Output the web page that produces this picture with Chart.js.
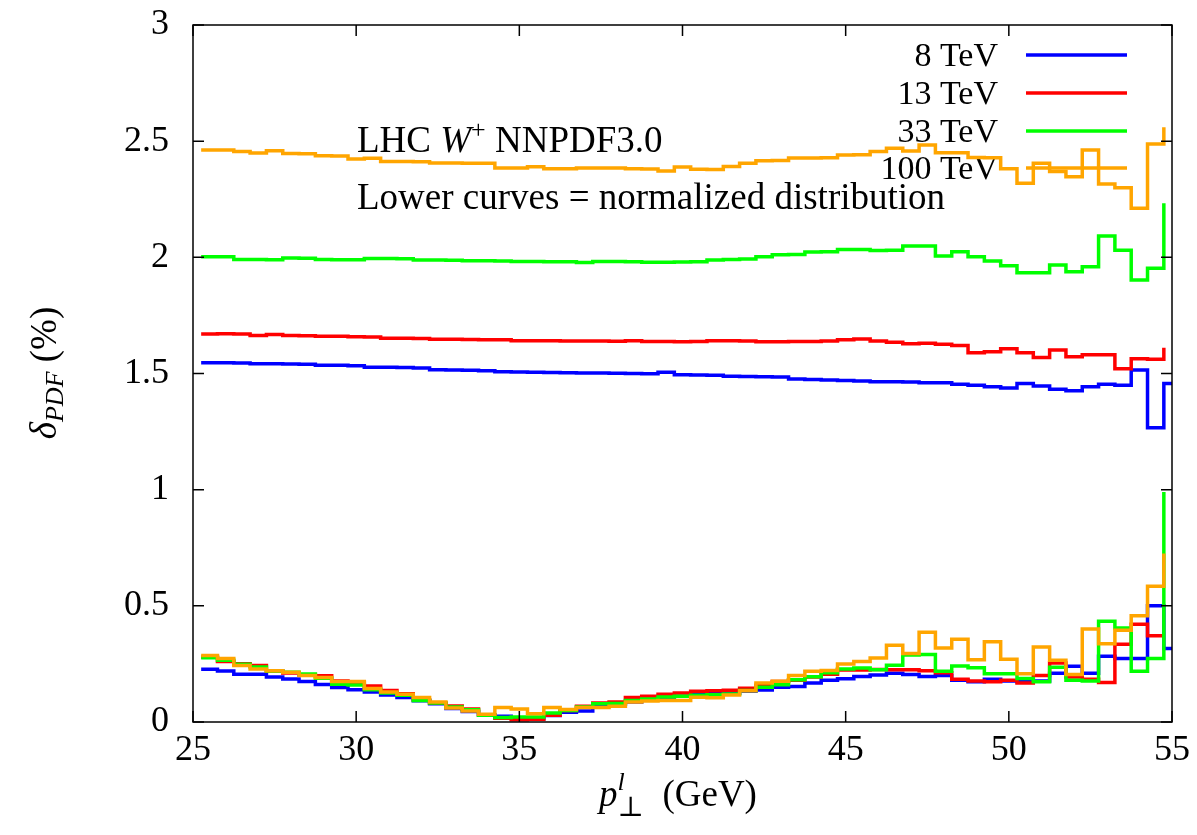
<!DOCTYPE html>
<html>
<head>
<meta charset="utf-8">
<script src="https://cdn.jsdelivr.net/npm/chart.js@4.4.1/dist/chart.umd.min.js"></script>
<style>
  html, body { margin: 0; padding: 0; background: #fff; }
  #wrap { width: 1197px; height: 835px; }
</style>
</head>
<body>
<div id="wrap"><canvas id="c" width="1197" height="835"></canvas></div>
<script>
// bin centres (GeV), 0.5 GeV bins
const binCenters = [
  25.25, 25.75, 26.25, 26.75, 27.25, 27.75, 28.25, 28.75, 29.25, 29.75,
  30.25, 30.75, 31.25, 31.75, 32.25, 32.75, 33.25, 33.75, 34.25, 34.75,
  35.25, 35.75, 36.25, 36.75, 37.25, 37.75, 38.25, 38.75, 39.25, 39.75,
  40.25, 40.75, 41.25, 41.75, 42.25, 42.75, 43.25, 43.75, 44.25, 44.75,
  45.25, 45.75, 46.25, 46.75, 47.25, 47.75, 48.25, 48.75, 49.25, 49.75,
  50.25, 50.75, 51.25, 51.75, 52.25, 52.75, 53.25, 53.75, 54.25, 54.75,
  55.25
];

const seriesLabels = ['8 TeV', '13 TeV', '33 TeV', '100 TeV'];
const seriesColors = ['#0000ff', '#ff0000', '#00ff00', '#ffa500'];

const xTicks = [25, 30, 35, 40, 45, 50, 55];
const yTicks = [0, 0.5, 1, 1.5, 2, 2.5, 3];
const yTickLabels = ['0', '0.5', '1', '1.5', '2', '2.5', '3'];

// upper curves: PDF uncertainty of the distribution (%)
const blueUpper = [
  1.546, 1.546, 1.545, 1.542, 1.542, 1.541, 1.540, 1.535, 1.535, 1.533,
  1.527, 1.527, 1.526, 1.524, 1.516, 1.515, 1.514, 1.512, 1.507, 1.506,
  1.505, 1.504, 1.503, 1.502, 1.502, 1.501, 1.500, 1.499, 1.505, 1.495,
  1.494, 1.493, 1.488, 1.487, 1.486, 1.485, 1.476, 1.474, 1.472, 1.470,
  1.468, 1.465, 1.464, 1.463, 1.460, 1.460, 1.454, 1.449, 1.443, 1.438,
  1.457, 1.446, 1.432, 1.426, 1.443, 1.454, 1.449, 1.515, 1.266, 1.457,
  1.457
];
const redUpper = [
  1.670, 1.671, 1.670, 1.664, 1.668, 1.664, 1.663, 1.660, 1.660, 1.658,
  1.657, 1.652, 1.652, 1.651, 1.647, 1.647, 1.646, 1.645, 1.645, 1.641,
  1.641, 1.641, 1.640, 1.640, 1.640, 1.639, 1.641, 1.638, 1.638, 1.637,
  1.638, 1.641, 1.641, 1.640, 1.637, 1.637, 1.638, 1.638, 1.640, 1.645,
  1.648, 1.640, 1.635, 1.628, 1.630, 1.626, 1.621, 1.589, 1.594, 1.607,
  1.589, 1.569, 1.601, 1.572, 1.581, 1.581, 1.520, 1.563, 1.561, 1.611
];
const greenUpper = [
  2.003, 2.003, 1.991, 1.991, 1.990, 1.997, 1.996, 1.991, 1.990, 1.990,
  1.995, 1.995, 1.994, 1.988, 1.988, 1.987, 1.985, 1.985, 1.984, 1.982,
  1.982, 1.981, 1.981, 1.978, 1.982, 1.982, 1.981, 1.979, 1.979, 1.980,
  1.981, 1.989, 1.991, 1.993, 2.003, 2.011, 2.012, 2.023, 2.024, 2.034,
  2.034, 2.029, 2.030, 2.049, 2.049, 2.006, 2.024, 2.003, 1.984, 1.964,
  1.934, 1.934, 1.967, 1.938, 1.960, 2.092, 2.031, 1.902, 1.953, 2.233
];
const orangeUpper = [
  2.462, 2.462, 2.455, 2.449, 2.459, 2.447, 2.446, 2.437, 2.436, 2.423,
  2.427, 2.412, 2.412, 2.411, 2.406, 2.406, 2.405, 2.405, 2.385, 2.385,
  2.390, 2.381, 2.381, 2.385, 2.385, 2.384, 2.381, 2.380, 2.372, 2.389,
  2.379, 2.378, 2.391, 2.405, 2.416, 2.417, 2.428, 2.428, 2.429, 2.440,
  2.441, 2.455, 2.469, 2.458, 2.484, 2.450, 2.450, 2.430, 2.429, 2.381,
  2.319, 2.405, 2.369, 2.347, 2.462, 2.316, 2.300, 2.211, 2.488, 2.560
];

// lower curves: normalized distribution
const blueLower = [
  0.227, 0.220, 0.205, 0.206, 0.194, 0.185, 0.174, 0.161, 0.149, 0.139,
  0.129, 0.116, 0.105, 0.092, 0.079, 0.058, 0.045, 0.030, 0.025, 0.018,
  0.014, 0.028, 0.042, 0.047, 0.072, 0.076, 0.086, 0.098, 0.103, 0.111,
  0.118, 0.122, 0.124, 0.132, 0.138, 0.150, 0.153, 0.168, 0.180, 0.186,
  0.196, 0.202, 0.210, 0.204, 0.196, 0.200, 0.180, 0.173, 0.184, 0.177,
  0.173, 0.177, 0.210, 0.240, 0.210, 0.283, 0.273, 0.273, 0.500, 0.316,
  0.316
];
const redLower = [
  0.280, 0.260, 0.251, 0.243, 0.220, 0.211, 0.201, 0.199, 0.177, 0.170,
  0.155, 0.136, 0.122, 0.096, 0.082, 0.069, 0.056, 0.030, 0.016, 0.010,
  0.012, 0.029, 0.050, 0.068, 0.082, 0.086, 0.105, 0.111, 0.119, 0.125,
  0.132, 0.134, 0.137, 0.145, 0.158, 0.174, 0.180, 0.194, 0.205, 0.224,
  0.224, 0.226, 0.225, 0.225, 0.221, 0.212, 0.184, 0.176, 0.173, 0.180,
  0.168, 0.200, 0.254, 0.194, 0.184, 0.170, 0.335, 0.421, 0.371, 0.371
];
const greenLower = [
  0.277, 0.266, 0.249, 0.237, 0.220, 0.214, 0.207, 0.188, 0.162, 0.159,
  0.139, 0.125, 0.115, 0.093, 0.082, 0.065, 0.053, 0.029, 0.019, 0.022,
  0.022, 0.039, 0.050, 0.065, 0.079, 0.080, 0.093, 0.099, 0.108, 0.111,
  0.115, 0.117, 0.120, 0.136, 0.150, 0.160, 0.182, 0.195, 0.212, 0.228,
  0.232, 0.225, 0.244, 0.288, 0.291, 0.218, 0.241, 0.234, 0.208, 0.208,
  0.187, 0.173, 0.236, 0.180, 0.176, 0.434, 0.405, 0.218, 0.273, 0.990
];
const orangeLower = [
  0.286, 0.273, 0.243, 0.228, 0.221, 0.214, 0.200, 0.191, 0.174, 0.174,
  0.144, 0.129, 0.119, 0.105, 0.086, 0.060, 0.047, 0.033, 0.062, 0.056,
  0.036, 0.062, 0.054, 0.062, 0.062, 0.068, 0.086, 0.090, 0.093, 0.093,
  0.106, 0.104, 0.116, 0.135, 0.168, 0.175, 0.200, 0.218, 0.222, 0.250,
  0.260, 0.276, 0.330, 0.295, 0.386, 0.318, 0.356, 0.268, 0.345, 0.270,
  0.208, 0.323, 0.266, 0.204, 0.400, 0.337, 0.395, 0.457, 0.584, 0.725
];

const SERIF = '"Liberation Serif", "DejaVu Serif", serif';
const FS = 37;      // annotation / axis title size
const KEY_FS = 34;  // key text
const TICK_FS = 36; // tick labels

function pts(vals) {
  return vals.map((v, i) => ({ x: binCenters[i], y: v }));
}

function histLine(vals, color, order) {
  return {
    data: pts(vals),
    borderColor: color,
    borderWidth: 3.5,
    pointRadius: 0,
    stepped: 'before',
    fill: false,
    order: order
  };
}

const uppers = [blueUpper, redUpper, greenUpper, orangeUpper];
const lowers = [blueLower, redLower, greenLower, orangeLower];
const datasets = [];
for (let s = 0; s < 4; s++) {
  datasets.push(histLine(uppers[s], seriesColors[s], 3 - s));
  datasets.push(histLine(lowers[s], seriesColors[s], 3 - s));
}

// draws a run of text pieces: [text, font, dy, stackWithNext]
function drawRun(ctx, x, y, parts, align) {
  let w = 0, held = 0;
  parts.forEach(p => {
    ctx.font = p[1];
    const pw = ctx.measureText(p[0]).width;
    if (p[3]) { held = Math.max(held, pw); return; }
    w += Math.max(held, pw); held = 0;
  });
  let cx = align === 'center' ? x - w / 2 : x;
  ctx.textAlign = 'left';
  held = 0;
  parts.forEach(p => {
    ctx.font = p[1];
    ctx.fillText(p[0], cx, y + (p[2] || 0));
    const pw = ctx.measureText(p[0]).width;
    if (p[3]) { held = Math.max(held, pw); return; }
    cx += Math.max(held, pw); held = 0;
  });
}

const decorations = {
  id: 'decorations',
  beforeDatasetsDraw(chart) {
    const ctx = chart.ctx;
    ctx.save();
    ctx.fillStyle = '#000';
    ctx.textBaseline = 'alphabetic';
    const rm = FS + 'px ' + SERIF;
    const it = 'italic ' + FS + 'px ' + SERIF;
    const sm = Math.round(FS * 0.7) + 'px ' + SERIF;
    drawRun(ctx, 357, 152, [['LHC ', rm], ['W', it], ['+', sm, -14], [' NNPDF3.0', rm]]);
    drawRun(ctx, 357, 209, [['Lower curves = normalized distribution', rm]]);

    // key
    ctx.font = KEY_FS + 'px ' + SERIF;
    ctx.textBaseline = 'middle';
    ctx.textAlign = 'right';
    const rowY = [55, 93, 131, 168];
    for (let s = 0; s < 4; s++) {
      ctx.fillText(seriesLabels[s], 998, rowY[s] + 2);
      ctx.strokeStyle = seriesColors[s];
      ctx.lineWidth = 3.5;
      ctx.beginPath();
      ctx.moveTo(1026, rowY[s]);
      ctx.lineTo(1127, rowY[s]);
      ctx.stroke();
    }
    ctx.restore();
  },
  afterDraw(chart) {
    const ctx = chart.ctx;
    const a = chart.chartArea;
    const xs = chart.scales.x, ys = chart.scales.y;
    ctx.save();
    ctx.strokeStyle = '#000';
    ctx.lineWidth = 1.5;
    ctx.strokeRect(a.left, a.top, a.right - a.left, a.bottom - a.top);
    const tl = 11;
    ctx.beginPath();
    xTicks.forEach(v => {
      const px = xs.getPixelForValue(v);
      ctx.moveTo(px, a.bottom); ctx.lineTo(px, a.bottom - tl);
      ctx.moveTo(px, a.top); ctx.lineTo(px, a.top + tl);
    });
    yTicks.forEach(v => {
      const py = ys.getPixelForValue(v);
      ctx.moveTo(a.left, py); ctx.lineTo(a.left + tl, py);
      ctx.moveTo(a.right, py); ctx.lineTo(a.right - tl, py);
    });
    ctx.stroke();

    // axis titles
    ctx.fillStyle = '#000';
    ctx.textBaseline = 'alphabetic';
    const rm = FS + 'px ' + SERIF;
    const it = 'italic ' + FS + 'px ' + SERIF;
    const itSm = 'italic ' + Math.round(FS * 0.7) + 'px ' + SERIF;
    const sm = Math.round(FS * 0.75) + 'px ' + SERIF;
    drawRun(ctx, 678, 806, [['p', it], ['l', itSm, -16, true], ['\u22A5', sm, 10], ['  (GeV)', rm]], 'center');

    ctx.translate(56, 373);
    ctx.rotate(-Math.PI / 2);
    drawRun(ctx, 0, 0, [['\u03B4', it], ['PDF', itSm, 7], [' (%)', rm]], 'center');
    ctx.restore();
  }
};

new Chart(document.getElementById('c'), {
  type: 'line',
  data: { datasets: datasets },
  options: {
    responsive: false,
    animation: false,
    layout: { autoPadding: false, padding: { top: 25, right: 25, left: 0, bottom: 0 } },
    plugins: { legend: { display: false }, tooltip: { enabled: false } },
    scales: {
      x: {
        type: 'linear',
        min: 25,
        max: 55,
        afterBuildTicks: s => { s.ticks = xTicks.map(v => ({ value: v })); },
        afterFit: s => { s.height = 113; s.paddingLeft = 0; s.paddingRight = 0; },
        ticks: { color: '#000', font: { family: SERIF, size: TICK_FS }, padding: 7, maxRotation: 0 },
        grid: { display: false, drawTicks: false },
        border: { display: false }
      },
      y: {
        min: 0,
        max: 3,
        afterBuildTicks: s => { s.ticks = yTicks.map(v => ({ value: v })); },
        afterFit: s => { s.width = 193; s.paddingTop = 0; s.paddingBottom = 0; },
        ticks: {
          color: '#000',
          font: { family: SERIF, size: TICK_FS },
          padding: 24,
          callback: v => yTickLabels[yTicks.indexOf(v)]
        },
        grid: { display: false, drawTicks: false },
        border: { display: false }
      }
    }
  },
  plugins: [decorations]
});
</script>
</body>
</html>
